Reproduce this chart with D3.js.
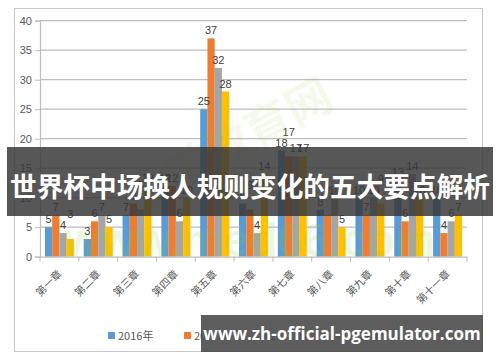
<!DOCTYPE html>
<html>
<head>
<meta charset="utf-8">
<script src="https://cdn.jsdelivr.net/npm/d3@7"></script>
<style>
  body { margin: 0; background: #fff; }
  svg { display: block; font-family: "Liberation Sans", "DejaVu Sans", sans-serif; }
</style>
</head>
<body>
<svg id="chart" width="500" height="362"></svg>
<script>
// chart data
const chapters = ["第一章", "第二章", "第三章", "第四章", "第五章", "第六章", "第七章", "第八章", "第九章", "第十章", "第十一章"];
const seriesNames = ["2016年", "2017年", "2018年", "2019年"];
const colors = ["#5b9bd5", "#ed7d31", "#a5a5a5", "#ffc000"];
const v2016 = [5, 3, 7, 12, 25, 9, 18, 8, 10, 13, 10];
const v2017 = [7, 6, 9, 12, 37, 8, 17, 7, 7, 6, 4];
const v2018 = [4, 7, 8, 6, 32, 4, 17, 10, 10, 14, 6];
const v2019 = [3, 5, 12, 10, 28, 14, 17, 5, 9, 10, 7];
const yTicks = [0, 5, 10, 15, 20, 25, 30, 35, 40];

const allSeries = [v2016, v2017, v2018, v2019];

const svg = d3.select("#chart");

// outer chart frame
svg.append("rect")
    .attr("x", 14.5).attr("y", 8.5)
    .attr("width", 468).attr("height", 343)
    .attr("fill", "#fff")
    .attr("stroke", "#c8c8c8");

const plot = { left: 40, right: 467, top: 20.7, bottom: 256.7 };

const x = d3.scaleBand()
    .domain(chapters)
    .range([plot.left, plot.right])
    .paddingInner(0)
    .paddingOuter(0);

const xs = d3.scaleBand()
    .domain(seriesNames)
    .range([0, x.bandwidth()])
    .paddingOuter(0.68)
    .paddingInner(0);

const y = d3.scaleLinear()
    .domain([0, 40])
    .range([plot.bottom, plot.top]);

// gridlines
svg.append("g")
    .selectAll("line")
    .data(yTicks.filter(d => d > 0))
    .join("line")
    .attr("x1", plot.left).attr("x2", plot.right)
    .attr("y1", d => y(d)).attr("y2", d => y(d))
    .attr("stroke", "#bdbdbd")
    .attr("stroke-width", 1.2);

// y axis
const yAxis = svg.append("g")
    .attr("transform", `translate(${plot.left},0)`)
    .call(d3.axisLeft(y).tickValues(yTicks).tickSize(5).tickPadding(3));
yAxis.select(".domain").attr("stroke", "#bdbdbd").attr("stroke-width", 1.2);
yAxis.selectAll(".tick line").attr("stroke", "#bdbdbd");
yAxis.selectAll(".tick text")
    .attr("fill", "#595959")
    .style("font-size", "11px");

// bars
const groups = svg.append("g")
    .selectAll("g")
    .data(chapters)
    .join("g")
    .attr("transform", d => `translate(${x(d)},0)`);

groups.selectAll("rect")
    .data((d, i) => seriesNames.map((s, k) => ({ s, v: allSeries[k][i], c: colors[k] })))
    .join("rect")
    .attr("x", d => xs(d.s))
    .attr("width", xs.bandwidth())
    .attr("y", d => y(d.v))
    .attr("height", d => y(0) - y(d.v))
    .attr("fill", d => d.c);

// data labels; a label just below its left neighbour gets lifted over it
function labelRows(i) {
    let prevY = null, prevV = null;
    return seriesNames.map((s, k) => {
        const v = allSeries[k][i];
        let ly = y(v) - 4;
        if (prevY !== null && v < prevV && Math.abs(ly - prevY) < 8) ly = prevY - 11;
        prevY = ly; prevV = v;
        return { s, v, ly };
    });
}
groups.selectAll("text")
    .data((d, i) => labelRows(i))
    .join("text")
    .attr("x", d => xs(d.s) + xs.bandwidth() / 2)
    .attr("y", d => d.ly)
    .attr("text-anchor", "middle")
    .attr("fill", "#404040")
    .style("font-size", "11px")
    .text(d => d.v);

// x axis
const xAxis = svg.append("g")
    .attr("transform", `translate(0,${plot.bottom})`)
    .call(d3.axisBottom(x).tickSize(0).tickFormat(""));
xAxis.select(".domain").attr("stroke", "#bdbdbd").attr("stroke-width", 1.2);
svg.append("g")
    .selectAll("line")
    .data(chapters.concat(["end"]))
    .join("line")
    .attr("x1", (d, i) => plot.left + i * x.bandwidth())
    .attr("x2", (d, i) => plot.left + i * x.bandwidth())
    .attr("y1", plot.bottom).attr("y2", plot.bottom + 5)
    .attr("stroke", "#bdbdbd");

svg.append("g")
    .selectAll("text")
    .data(chapters)
    .join("text")
    .attr("transform", d => `translate(${x(d) + x.bandwidth() / 2 + 3},${plot.bottom + 18}) rotate(-45)`)
    .attr("text-anchor", "end")
    .attr("fill", "#595959")
    .style("font-size", "10.5px")
    .style("font-family", "'Noto Sans CJK SC', sans-serif")
    .text(d => d);

// legend
const legend = svg.append("g")
    .selectAll("g")
    .data(seriesNames)
    .join("g")
    .attr("transform", (d, i) => `translate(${108 + i * 76},336)`);
legend.append("rect")
    .attr("x", 0).attr("y", -4)
    .attr("width", 7).attr("height", 7)
    .attr("fill", (d, i) => colors[i]);
legend.append("text")
    .attr("x", 10).attr("y", 4)
    .attr("fill", "#595959")
    .style("font-size", "11px")
    .style("font-family", "'Noto Sans CJK SC', sans-serif")
    .text(d => d);

// faint watermark
svg.append("text")
    .attr("x", 250).attr("y", 256)
    .attr("text-anchor", "middle")
    .attr("fill", "rgba(140,200,60,0.16)")
    .style("font-size", "46px")
    .style("font-weight", "bold")
    .text("www.med66.com");
svg.append("text")
    .attr("transform", "translate(235,160) rotate(-28)")
    .attr("text-anchor", "middle")
    .attr("fill", "rgba(140,200,60,0.09)")
    .style("font-size", "46px")
    .style("font-weight", "bold")
    .style("font-family", "'Noto Sans CJK SC', sans-serif")
    .text("医学教育网");

// title banner
svg.append("rect")
    .attr("x", 7).attr("y", 147)
    .attr("width", 486).attr("height", 69)
    .attr("fill", "rgba(55,55,55,0.84)");
svg.append("text")
    .attr("x", 250).attr("y", 197)
    .attr("text-anchor", "middle")
    .attr("fill", "#fff")
    .attr("textLength", 480)
    .attr("lengthAdjust", "spacingAndGlyphs")
    .style("font-size", "27px")
    .style("font-weight", "bold")
    .style("font-family", "'Noto Sans CJK SC', sans-serif")
    .text("世界杯中场换人规则变化的五大要点解析");

// url banner
svg.append("rect")
    .attr("x", 201).attr("y", 315)
    .attr("width", 282).attr("height", 37)
    .attr("fill", "rgba(75,75,75,0.9)");
svg.append("text")
    .attr("x", 342).attr("y", 340)
    .attr("text-anchor", "middle")
    .attr("fill", "#fff")
    .style("font-size", "17px")
    .style("font-weight", "bold")
    .style("font-family", "'Open Sans', 'DejaVu Sans', sans-serif")
    .text("www.zh-official-pgemulator.com");
</script>
</body>
</html>
